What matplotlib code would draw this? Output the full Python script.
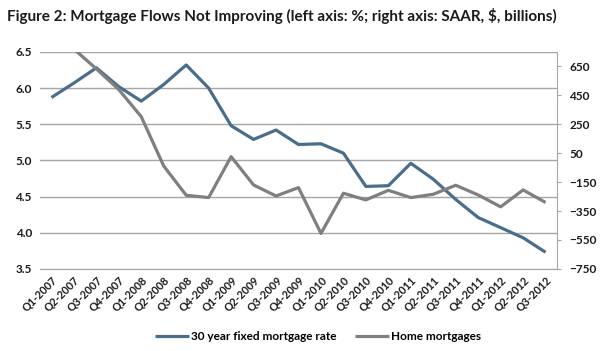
import matplotlib.pyplot as plt
import numpy as np

plt.rcParams['font.family'] = ['Lato', 'DejaVu Sans']

quarters = ['Q1-2007', 'Q2-2007', 'Q3-2007', 'Q4-2007', 'Q1-2008', 'Q2-2008',
            'Q3-2008', 'Q4-2008', 'Q1-2009', 'Q2-2009', 'Q3-2009', 'Q4-2009',
            'Q1-2010', 'Q2-2010', 'Q3-2010', 'Q4-2010', 'Q1-2011', 'Q2-2011',
            'Q3-2011', 'Q4-2011', 'Q1-2012', 'Q2-2012', 'Q3-2012']

# 30 year fixed mortgage rate, %
rate = [5.87, 6.07, 6.28, 6.02, 5.82, 6.05, 6.32, 6.00, 5.48, 5.29, 5.42, 5.22,
        5.23, 5.10, 4.64, 4.65, 4.96, 4.74, 4.46, 4.21, 4.07, 3.93, 3.73]

# home mortgages, SAAR, $ billions
home = [1000, 770, 633, 490, 302, -39, -241, -257, 26, -170, -246, -188,
        -505, -227, -273, -207, -257, -234, -172, -239, -321, -204, -291]

blue = '#4a6d8c'
grey = '#7f7f7f'

fig = plt.figure(figsize=(6, 3.51), dpi=100)
ax = fig.add_axes([0.067, 0.234, 0.861, 0.618])
ax2 = ax.twinx()

x = np.arange(len(quarters))
l1, = ax.plot(x, rate, color=blue, lw=2.3, solid_capstyle='butt', zorder=3)
l2, = ax2.plot(x, home, color=grey, lw=2.3, solid_capstyle='butt', zorder=2)

ax.set_ylim(3.5, 6.5)
ax.set_yticks(np.arange(3.5, 6.51, 0.5))
ax.set_yticklabels(['%.1f' % v for v in np.arange(3.5, 6.51, 0.5)])
ax2.set_ylim(-750, 750)
ax2.set_yticks(np.arange(-750, 651, 200))
ax.set_xlim(-0.5, len(quarters) - 0.5)
ax.set_xticks(x)
ax.set_xticklabels(quarters, rotation=45, ha='right', rotation_mode='anchor')

ax.grid(axis='y', color='#a6a6a6', lw=1)
ax.set_axisbelow(True)
for a in (ax, ax2):
    a.spines['top'].set_visible(False)
    a.spines['left'].set_visible(False)
    a.spines['right'].set_visible(False)
    a.spines['bottom'].set_color('#a6a6a6')
ax2.spines['right'].set_visible(True)
ax2.spines['right'].set_color('#a6a6a6')
ax2.spines['bottom'].set_visible(False)

ax.tick_params(axis='y', length=0, labelsize=8.5, pad=6)
ax.tick_params(axis='x', length=0, labelsize=7.8, pad=4)
ax2.tick_params(axis='y', length=3, color='#a6a6a6', labelsize=8.5, pad=6)
for lab in ax.get_xticklabels() + ax.get_yticklabels() + ax2.get_yticklabels():
    lab.set_fontweight('bold')
    lab.set_color('#1a1a1a')

fig.text(0.012, 0.955, 'Figure 2: Mortgage Flows Not Improving (left axis: %; right axis: SAAR, $, billions)',
         fontsize=11, fontweight='bold', color='#1a1a1a', va='center')

fig.legend([l1, l2], ['30 year fixed mortgage rate', 'Home mortgages'],
           loc='center', bbox_to_anchor=(0.53, 0.04), ncol=2, frameon=False,
           handlelength=2.9, handletextpad=0.15, columnspacing=1.6,
           prop={'weight': 'bold', 'size': 8.5})

fig.savefig('out.png', dpi=100)
